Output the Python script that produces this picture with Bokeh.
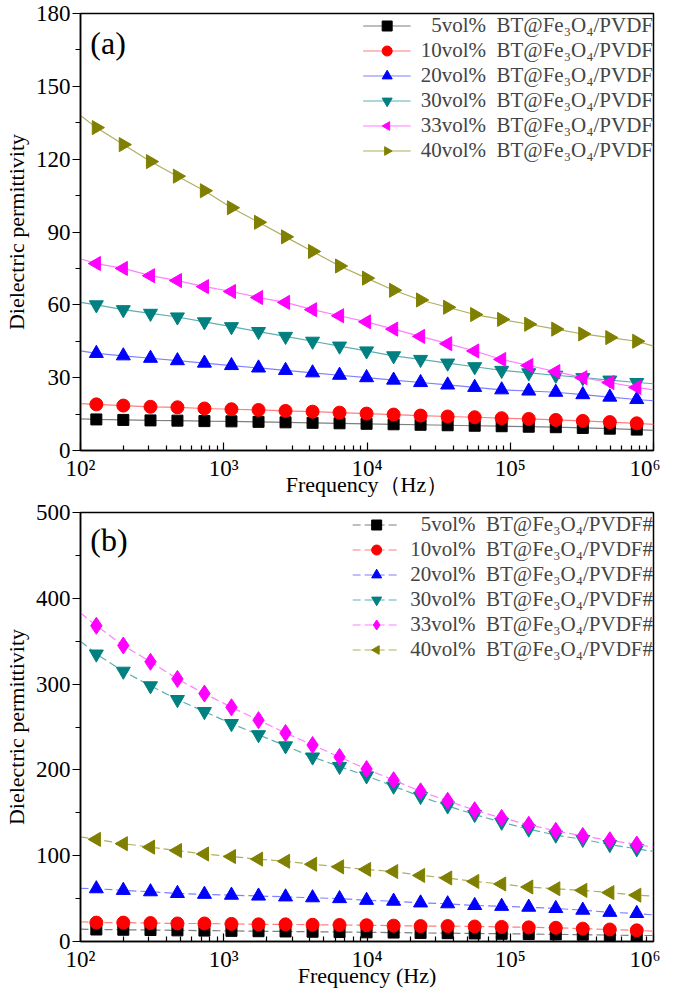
import math
from bokeh.plotting import figure
from bokeh.layouts import column
from bokeh.models import FixedTicker, Label
from bokeh.core.properties import value
from bokeh.embed import file_html
from bokeh.resources import INLINE

# Frequencies of the plotted markers (Hz)
freq = [129, 199, 308, 475, 733, 1132, 1749, 2700, 4169, 6431, 9930, 15340,
        23660, 36560, 56470, 87100, 134600, 207900, 320900, 495600, 764000]
f_start = 100
f_end = 1000000

# ---- Panel (a) ----
a_labels = ["\u00a0\u00a05vol%\u00a0\u00a0BT@Fe\u2083O\u2084/PVDF",
            "10vol%\u00a0\u00a0BT@Fe\u2083O\u2084/PVDF",
            "20vol%\u00a0\u00a0BT@Fe\u2083O\u2084/PVDF",
            "30vol%\u00a0\u00a0BT@Fe\u2083O\u2084/PVDF",
            "33vol%\u00a0\u00a0BT@Fe\u2083O\u2084/PVDF",
            "40vol%\u00a0\u00a0BT@Fe\u2083O\u2084/PVDF"]
a_5 = [12.8, 12.6, 12.4, 12.3, 12.1, 12.0, 11.8, 11.6, 11.4, 11.2, 11.0, 10.8,
       10.6, 10.4, 10.2, 10.0, 9.8, 9.6, 9.3, 9.0, 8.6]
a_10 = [19.0, 18.5, 18.0, 17.8, 17.3, 17.0, 16.7, 16.3, 16.0, 15.6, 15.2, 14.8,
        14.4, 14.0, 13.7, 13.3, 13.0, 12.6, 12.2, 11.7, 11.2]
a_20 = [40.0, 39.0, 38.0, 37.0, 36.0, 35.0, 34.0, 33.0, 32.0, 31.0, 30.0, 29.0,
        28.0, 27.0, 26.0, 25.0, 24.5, 24.0, 23.0, 22.0, 21.0]
a_30 = [60.0, 58.0, 56.5, 55.0, 53.0, 51.0, 49.0, 47.0, 45.0, 43.0, 41.0, 39.0,
        37.5, 36.0, 34.5, 33.0, 32.0, 31.0, 30.0, 29.0, 28.0]
a_33 = [77.0, 75.0, 72.0, 70.0, 67.5, 65.5, 63.0, 61.0, 58.0, 55.5, 53.0, 50.0,
        47.0, 44.0, 41.0, 37.5, 35.0, 32.5, 30.0, 28.0, 26.0]
a_40 = [133.0, 126.0, 119.0, 113.0, 107.0, 100.0, 94.0, 88.0, 82.0, 76.0, 71.0, 66.0,
        62.0, 59.0, 56.0, 54.0, 52.0, 50.0, 48.0, 46.5, 45.0]
# line values at 10^2 and 10^6
a_starts = [13.0, 19.3, 41.0, 61.0, 79.0, 138.0]
a_ends = [8.3, 10.8, 20.5, 27.5, 25.0, 43.0]

# ---- Panel (b) ----
b_labels = [s + "#" for s in a_labels]
b_5 = [14.0, 13.7, 13.4, 13.0, 12.7, 12.4, 12.0, 11.7, 11.4, 11.0, 10.7, 10.4,
       10.0, 9.7, 9.4, 9.0, 8.7, 8.3, 8.0, 7.5, 7.0]
b_10 = [22.0, 22.0, 21.5, 21.0, 21.0, 20.5, 20.0, 20.0, 19.5, 19.3, 19.0, 18.5,
        18.0, 18.0, 17.5, 17.0, 16.5, 16.0, 15.0, 14.0, 13.0]
b_20 = [61.5, 59.6, 58.0, 56.0, 55.0, 54.0, 53.0, 52.0, 51.0, 50.0, 48.0, 47.0,
        45.0, 44.0, 42.0, 41.0, 40.0, 38.5, 36.5, 34.0, 32.7]
b_30 = [335.0, 315.0, 298.0, 282.0, 268.0, 254.0, 241.0, 228.0, 215.0, 204.0, 193.0, 181.0,
        169.0, 158.0, 148.0, 139.0, 131.0, 124.0, 119.0, 113.0, 108.0]
b_33 = [368.0, 345.0, 326.0, 306.0, 289.0, 273.0, 258.0, 243.0, 229.0, 215.0, 201.0, 188.0,
        175.0, 164.0, 153.0, 144.0, 136.0, 129.0, 123.0, 118.0, 113.0]
b_40 = [119.0, 114.0, 110.0, 106.0, 102.0, 99.0, 96.0, 93.5, 90.0, 87.0, 84.0, 81.5,
        77.0, 74.0, 70.0, 67.0, 63.5, 61.5, 59.6, 57.0, 54.0]
b_starts = [14.5, 23.0, 62.0, 350.0, 383.0, 122.0]
b_ends = [7.0, 12.0, 31.0, 105.0, 110.0, 53.0]

marker_colors = ["#000000", "#ff0000", "#0000ff", "#008080", "#ff00ff", "#808000"]
line_colors = ["#7f7f7f", "#ff7f7f", "#7f7fff", "#5fafaf", "#ff7fff", "#afaf5f"]

FONT = "'Liberation Serif', 'Times New Roman', serif"
SUP = {2: "10\u00b2", 3: "10\u00b3", 4: "10\u2074", 5: "10\u2075", 6: "10\u2076"}


def add_markers(p, xs, ys, mk, sz, color, label):
    if mk in ("left", "right"):
        ang = -math.pi / 2 if mk == "right" else math.pi / 2
        try:
            return p.ngon(xs, ys, radius=sz * 0.58, radius_units="screen", n=3,
                          angle=ang, fill_color=color, line_color=color,
                          legend_label=label)
        except Exception:
            ch = "\u25b6" if mk == "right" else "\u25c0"
            return p.text(xs, ys, text=value(ch), text_color=color,
                          text_font=value("DejaVu Sans"), text_font_size="15px",
                          text_align="center", text_baseline="middle",
                          legend_label=label)
    return p.scatter(xs, ys, marker=mk, size=sz, fill_color=color,
                     line_color=color, legend_label=label)


def make_panel(series, labels, starts, ends, markers, ymax, ystep,
               xlabel, panel_text, panel_y, dash, height, top_border):
    p = figure(width=660, height=height, x_axis_type="log",
               x_range=(f_start, f_end), y_range=(0, ymax),
               output_backend="svg", toolbar_location=None,
               min_border_left=10, min_border_right=7,
               min_border_top=top_border, min_border_bottom=0)
    p.background_fill_color = "white"
    p.border_fill_color = "white"
    p.outline_line_color = "black"
    p.outline_line_width = 1.5
    p.xgrid.visible = False
    p.ygrid.visible = False

    for i, ys in enumerate(series):
        lx = [f_start] + freq + [f_end]
        ly = [starts[i]] + ys + [ends[i]]
        p.line(lx, ly, line_color=line_colors[i], line_width=1.2,
               line_dash=dash, legend_label=labels[i])
        mk, sz = markers[i]
        add_markers(p, freq, ys, mk, sz, marker_colors[i], labels[i])

    xa = p.xaxis[0]
    xa.ticker = FixedTicker(ticks=[1e2, 1e3, 1e4, 1e5, 1e6],
                            minor_ticks=[k * 10 ** d for d in range(2, 6) for k in range(2, 10)])
    xa.major_label_overrides = {10 ** d: SUP[d] for d in range(2, 7)}
    xa.major_tick_in = 8
    xa.major_tick_out = 0
    xa.minor_tick_in = 5
    xa.minor_tick_out = 0
    xa.major_label_standoff = 5
    xa.axis_label = xlabel
    xa.axis_label_standoff = -12

    ya = p.yaxis[0]
    ya.ticker = FixedTicker(ticks=list(range(0, ymax + 1, ystep)),
                            minor_ticks=list(range(ystep // 2, ymax, ystep)))
    ya.major_tick_in = 0
    ya.major_tick_out = 8
    ya.minor_tick_in = 0
    ya.minor_tick_out = 5
    ya.major_label_standoff = 2
    ya.axis_label = "Dielectric permittivity"
    ya.axis_label_standoff = 4

    for ax in (xa, ya):
        ax.axis_line_width = 1.5
        ax.major_tick_line_width = 1.2
        ax.minor_tick_line_width = 1.2
        ax.major_label_text_font = FONT
        ax.major_label_text_font_size = "23px"
        ax.major_label_text_color = "black"
        ax.axis_label_text_font = FONT
        ax.axis_label_text_font_size = "22px"
        ax.axis_label_text_font_style = "normal"
        ax.axis_label_text_color = "black"

    lg = p.legend[0]
    lg.location = "top_right"
    lg.border_line_color = None
    lg.background_fill_alpha = 0
    lg.label_text_font = FONT
    lg.label_text_font_size = "21px"
    lg.glyph_width = 48
    lg.glyph_height = 25
    lg.label_height = 20
    lg.spacing = 0
    lg.padding = 0
    lg.margin = 0
    lg.label_standoff = 10

    p.add_layout(Label(x=117, y=panel_y, text=panel_text, text_font=FONT,
                       text_font_size="32px", text_baseline="middle",
                       text_align="left", text_color="black"))
    return p


a_markers = [("square", 11), ("circle", 13), ("triangle", 14),
             ("inverted_triangle", 14), ("left", 14), ("right", 14)]
b_markers = [("square", 11), ("circle", 13), ("triangle", 14),
             ("inverted_triangle", 14), ("diamond", 17), ("left", 14)]

pa = make_panel([a_5, a_10, a_20, a_30, a_33, a_40], a_labels, a_starts, a_ends,
                a_markers, 180, 30, "Frequency\uff08Hz\uff09", "(a)", 168, "solid",
                499, 13)
pb = make_panel([b_5, b_10, b_20, b_30, b_33, b_40], b_labels, b_starts, b_ends,
                b_markers, 500, 100, "Frequency (Hz)", "(b)", 468, "8 4",
                491, 13)

layout = column(pa, pb, spacing=0)
open("out.html", "w").write(file_html(layout, INLINE))
